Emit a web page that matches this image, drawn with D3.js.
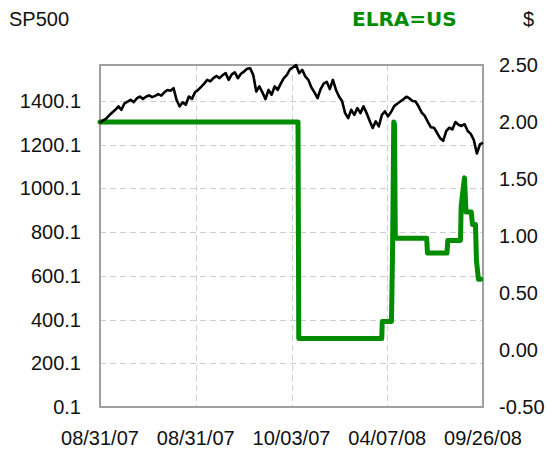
<!DOCTYPE html>
<html>
<head>
<meta charset="utf-8">
<script src="https://cdn.jsdelivr.net/npm/d3@7"></script>
<style>
  body { margin: 0; background: #fff; }
  text { font-family: "Liberation Sans", Arial, sans-serif; fill: #111; }
</style>
</head>
<body>
<div id="chart"></div>
<script>
// x labels (shown at quarters of the trading-day range)
const xTickLabels = ['08/31/07', '08/31/07', '10/03/07', '04/07/08', '09/26/08'];
const leftTicks = [0.1, 200.1, 400.1, 600.1, 800.1, 1000.1, 1200.1, 1400.1];
const rightTicks = [-0.5, 0, 0.5, 1, 1.5, 2, 2.5];

// SP500 close, one value every 4 trading days (day 0..500)
const sp500 = [
  1300, 1312, 1320, 1335, 1348, 1360, 1376, 1360, 1390, 1398,
  1406, 1395, 1412, 1421, 1410, 1420, 1426, 1418, 1424, 1432,
  1425, 1440, 1451, 1447, 1459, 1405, 1376, 1394, 1383, 1421,
  1410, 1440, 1451, 1465, 1480, 1497, 1490, 1505, 1515, 1505,
  1518, 1528, 1497, 1522, 1531, 1505, 1525, 1535, 1548, 1550,
  1520, 1444, 1467, 1440, 1409, 1451, 1429, 1467, 1451, 1480,
  1505, 1520, 1545, 1555, 1565, 1528, 1543, 1513, 1497, 1462,
  1440, 1414, 1455, 1480, 1488, 1455, 1497, 1452, 1421, 1400,
  1345, 1322, 1360, 1337, 1368, 1345, 1376, 1345, 1310, 1277,
  1307, 1284, 1337, 1353, 1330, 1350, 1377, 1388, 1398, 1408,
  1420, 1412, 1400, 1398, 1375, 1347, 1332, 1305, 1280, 1278,
  1255, 1230, 1218, 1263, 1278, 1270, 1304, 1292, 1286, 1294,
  1263, 1250, 1222, 1160, 1202, 1210
];
const spStep = 4;

// ELRA=US price ($) at trading days
const elraDay = [0, 258.5, 259.5, 367.8, 368.5, 380.5, 382, 383.5, 384.5, 385.5,
  426.5, 427.5, 453, 454, 470.6, 471.5, 475.8, 477.8, 484.7, 486.3,
  490.2, 491.4, 494, 497];
const elraPrice = [2.00, 2.00, 0.10, 0.10, 0.25, 0.25, 0.90, 2.00, 1.98, 0.98,
  0.98, 0.85, 0.85, 0.96, 0.96, 1.26, 1.51, 1.21, 1.21, 1.10,
  1.10, 0.79, 0.62, 0.62];

const W = 547, H = 450;
const plot = { left: 100, right: 483, top: 65, bottom: 407 };
const green = '#008c00';

const svg = d3.select('#chart').append('svg')
  .attr('width', W).attr('height', H);

const x = d3.scaleLinear().domain([0, 500]).range([plot.left, plot.right]);
const yL = d3.scaleLinear().domain([0.1, 1565.1]).range([plot.bottom, plot.top]);
const yR = d3.scaleLinear().domain([-0.5, 2.5]).range([plot.bottom, plot.top]);

// grid
const grid = svg.append('g')
  .attr('stroke', '#cfcfcf').attr('stroke-width', 1).attr('stroke-dasharray', '6,4');
leftTicks.slice(1).forEach(v => {
  grid.append('line').attr('x1', plot.left).attr('x2', plot.right)
    .attr('y1', Math.round(yL(v)) + 0.5).attr('y2', Math.round(yL(v)) + 0.5);
});
xTickLabels.forEach((d, i) => {
  if (i === 0 || i === xTickLabels.length - 1) return;
  const xx = Math.round(x(i * 125)) + 0.5;
  grid.append('line').attr('x1', xx).attr('x2', xx)
    .attr('y1', plot.top).attr('y2', plot.bottom);
});

// frame
svg.append('rect')
  .attr('x', plot.left).attr('y', plot.top)
  .attr('width', plot.right - plot.left).attr('height', plot.bottom - plot.top)
  .attr('fill', 'none').attr('stroke', '#a0a0a0').attr('stroke-width', 2);

// ELRA line
const elra = elraDay.map((d, i) => [d, elraPrice[i]]);
svg.append('path')
  .datum(elra)
  .attr('fill', 'none')
  .attr('stroke', green)
  .attr('stroke-width', 5)
  .attr('stroke-linejoin', 'round')
  .attr('stroke-linecap', 'round')
  .attr('d', d3.line().x(d => x(d[0])).y(d => yR(d[1])));

// SP500 line
svg.append('path')
  .datum(sp500)
  .attr('fill', 'none')
  .attr('stroke', '#000')
  .attr('stroke-width', 2.6)
  .attr('stroke-linejoin', 'round')
  .attr('d', d3.line().x((d, i) => x(i * spStep)).y(d => yL(d)));

// axis labels
svg.append('g').selectAll('text')
  .data(leftTicks).enter().append('text')
  .attr('x', 81).attr('y', d => yL(d) + 7)
  .attr('text-anchor', 'end').style('font-size', '20px')
  .text(d => d.toFixed(1));

svg.append('g').selectAll('text')
  .data(rightTicks).enter().append('text')
  .attr('x', 499).attr('y', d => yR(d) + 7)
  .attr('text-anchor', 'start').style('font-size', '20px')
  .text(d => d.toFixed(2));

svg.append('g').selectAll('text')
  .data(xTickLabels).enter().append('text')
  .attr('x', (d, i) => x(i * 125)).attr('y', 445)
  .attr('text-anchor', 'middle').style('font-size', '20px')
  .text(d => d);

// titles
svg.append('text').attr('x', 9).attr('y', 26).style('font-size', '20px').text('SP500');
svg.append('text').attr('x', 352).attr('y', 26)
  .style('font-family', '"DejaVu Sans", Verdana, sans-serif')
  .style('font-weight', 'bold').style('font-size', '20px')
  .style('fill', green).text('ELRA=US');
svg.append('text').attr('x', 523).attr('y', 26).style('font-size', '20px').text('$');
</script>
</body>
</html>
